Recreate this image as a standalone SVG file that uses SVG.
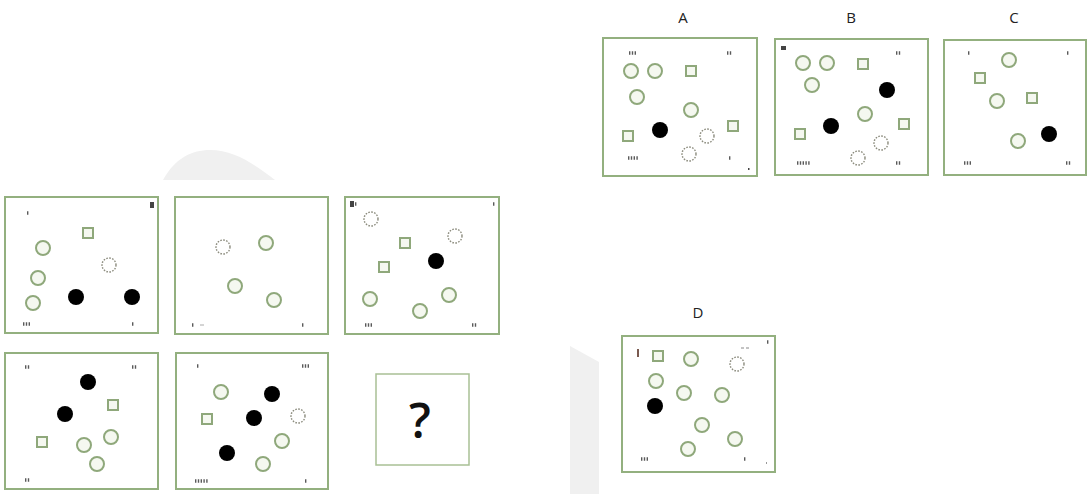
<svg xmlns="http://www.w3.org/2000/svg" width="1092" height="494" viewBox="0 0 1092 494">
<style>
.frame{fill:#ffffff;stroke:#93b07f;stroke-width:2}
.q{fill:#ffffff;stroke:#a9c095;stroke-width:1.5}
.c{fill:#f5f8f0;stroke:#8fa87b;stroke-width:2}
.d{fill:#ffffff;stroke:#8a8a7c;stroke-width:1.4;stroke-dasharray:1.6 1.4}
.b{fill:#000000}
.s{fill:#f5f8f0;stroke:#8fa87b;stroke-width:2}
.m{stroke:#5a5a5a;stroke-width:3.5;stroke-dasharray:1.4 1.4;fill:none}
.lbl{font-family:"Open Sans","Liberation Sans",sans-serif;font-size:15px;fill:#222;text-anchor:middle}
.wm{fill:#f0f0f0}
</style>
<rect width="1092" height="494" fill="#ffffff"/>
<g id="watermark">
<path class="wm" d="M163,180 C175,158 192,150 210,150 C235,150 255,165 275,180 Z"/>
<polygon class="wm" points="570,346 599,362 599,494 570,494"/>
</g>
<g id="p1">
<rect class="frame" x="5" y="197" width="153" height="136"/>
<line class="m" x1="27" y1="213" x2="29.8" y2="213"/>
<rect x="150" y="202" width="4" height="6" fill="#444"/>
<rect class="s" x="83" y="228" width="10" height="10"/>
<circle class="c" cx="43" cy="248" r="7"/>
<circle class="d" cx="109" cy="265" r="7"/>
<circle class="c" cx="38" cy="278" r="7"/>
<circle class="c" cx="33" cy="303" r="7"/>
<circle class="b" cx="76" cy="297" r="8"/>
<circle class="b" cx="132" cy="297" r="8"/>
<line class="m" x1="23" y1="324" x2="31.4" y2="324"/>
<line class="m" x1="132" y1="324" x2="134.8" y2="324"/>
</g>
<g id="p2">
<rect class="frame" x="175" y="197" width="153" height="137"/>
<circle class="d" cx="223" cy="247" r="7"/>
<circle class="c" cx="266" cy="243" r="7"/>
<circle class="c" cx="235" cy="286" r="7"/>
<circle class="c" cx="274" cy="300" r="7"/>
<line class="m" x1="192" y1="325" x2="194.8" y2="325"/>
<line x1="200" y1="325" x2="204" y2="325" stroke="#aaa" stroke-width="1"/>
<line class="m" x1="302" y1="325" x2="304.8" y2="325"/>
</g>
<g id="p3">
<rect class="frame" x="345" y="197" width="154" height="137"/>
<rect x="350" y="201" width="4" height="6" fill="#444"/>
<line class="m" x1="355" y1="204" x2="357.8" y2="204"/>
<line class="m" x1="493" y1="204" x2="495.8" y2="204"/>
<circle class="d" cx="371" cy="219" r="7"/>
<circle class="d" cx="455" cy="236" r="7"/>
<rect class="s" x="400" y="238" width="10" height="10"/>
<rect class="s" x="379" y="262" width="10" height="10"/>
<circle class="b" cx="436" cy="261" r="8"/>
<circle class="c" cx="370" cy="299" r="7"/>
<circle class="c" cx="449" cy="295" r="7"/>
<circle class="c" cx="420" cy="311" r="7"/>
<line class="m" x1="365" y1="325" x2="373.4" y2="325"/>
<line class="m" x1="472" y1="325" x2="477.6" y2="325"/>
</g>
<g id="p4">
<rect class="frame" x="5" y="353" width="153" height="136"/>
<line class="m" x1="25" y1="367" x2="30.6" y2="367"/>
<line class="m" x1="132" y1="367" x2="137.6" y2="367"/>
<circle class="b" cx="88" cy="382" r="8"/>
<rect class="s" x="108" y="400" width="10" height="10"/>
<circle class="b" cx="65" cy="414" r="8"/>
<rect class="s" x="37" y="437" width="10" height="10"/>
<circle class="c" cx="111" cy="437" r="7"/>
<circle class="c" cx="84" cy="445" r="7"/>
<circle class="c" cx="97" cy="464" r="7"/>
<line class="m" x1="25" y1="480" x2="30.6" y2="480"/>
</g>
<g id="p5">
<rect class="frame" x="176" y="353" width="152" height="136"/>
<line class="m" x1="197" y1="366" x2="199.8" y2="366"/>
<line class="m" x1="302" y1="366" x2="310.4" y2="366"/>
<circle class="c" cx="221" cy="392" r="7"/>
<circle class="b" cx="272" cy="394" r="8"/>
<rect class="s" x="202" y="414" width="10" height="10"/>
<circle class="b" cx="254" cy="418" r="8"/>
<circle class="d" cx="298" cy="416" r="7"/>
<circle class="c" cx="282" cy="441" r="7"/>
<circle class="b" cx="227" cy="453" r="8"/>
<circle class="c" cx="263" cy="464" r="7"/>
<line class="m" x1="195" y1="481" x2="209" y2="481"/>
<line class="m" x1="305" y1="481" x2="307.8" y2="481"/>
</g>
<g id="question">
<rect class="q" x="376" y="374" width="93" height="91"/>
<text x="420" y="438" font-family="'Open Sans','Liberation Sans',sans-serif" font-size="48" font-weight="600" fill="#111" text-anchor="middle">?</text>
</g>
<g id="optA">
<text class="lbl" x="683" y="23">A</text>
<rect class="frame" x="603" y="38" width="154" height="138"/>
<line class="m" x1="629" y1="53" x2="637.4" y2="53" stroke="#7a5a50"/>
<line class="m" x1="727" y1="53" x2="732.6" y2="53" stroke="#9a6a5a"/>
<circle class="c" cx="631" cy="71" r="7"/>
<circle class="c" cx="655" cy="71" r="7"/>
<rect class="s" x="686" y="66" width="10" height="10"/>
<circle class="c" cx="637" cy="97" r="7"/>
<circle class="c" cx="691" cy="110" r="7"/>
<rect class="s" x="728" y="121" width="10" height="10"/>
<circle class="b" cx="660" cy="130" r="8"/>
<rect class="s" x="623" y="131" width="10" height="10"/>
<circle class="d" cx="707" cy="136" r="7"/>
<circle class="d" cx="689" cy="154" r="7"/>
<line class="m" x1="628" y1="158" x2="639.2" y2="158"/>
<line class="m" x1="729" y1="158" x2="731.8" y2="158"/>
<rect x="748" y="168" width="1.5" height="2" fill="#444"/>
</g>
<g id="optB">
<text class="lbl" x="851" y="23">B</text>
<rect class="frame" x="775" y="39" width="153" height="136"/>
<rect x="781" y="46" width="5" height="4" fill="#444"/>
<line class="m" x1="896" y1="53" x2="901.6" y2="53"/>
<circle class="c" cx="803" cy="63" r="7"/>
<circle class="c" cx="827" cy="63" r="7"/>
<rect class="s" x="858" y="59" width="10" height="10"/>
<circle class="c" cx="812" cy="85" r="7"/>
<circle class="b" cx="887" cy="90" r="8"/>
<circle class="c" cx="865" cy="114" r="7"/>
<rect class="s" x="899" y="119" width="10" height="10"/>
<circle class="b" cx="831" cy="126" r="8"/>
<rect class="s" x="795" y="129" width="10" height="10"/>
<circle class="d" cx="881" cy="143" r="7"/>
<circle class="d" cx="858" cy="158" r="7"/>
<line class="m" x1="797" y1="163" x2="811" y2="163"/>
<line class="m" x1="896" y1="163" x2="901.6" y2="163"/>
</g>
<g id="optC">
<text class="lbl" x="1014" y="23">C</text>
<rect class="frame" x="944" y="40" width="142" height="135"/>
<line class="m" x1="968" y1="53" x2="970.8" y2="53"/>
<line class="m" x1="1067" y1="53" x2="1069.8" y2="53"/>
<circle class="c" cx="1009" cy="60" r="7"/>
<rect class="s" x="975" y="73" width="10" height="10"/>
<circle class="c" cx="997" cy="101" r="7"/>
<rect class="s" x="1027" y="93" width="10" height="10"/>
<circle class="c" cx="1018" cy="141" r="7"/>
<circle class="b" cx="1049" cy="134" r="8"/>
<line class="m" x1="964" y1="163" x2="972.4" y2="163"/>
<line class="m" x1="1066" y1="163" x2="1071.6" y2="163"/>
</g>
<g id="optD">
<text class="lbl" x="698" y="318">D</text>
<rect class="frame" x="622" y="336" width="153" height="136"/>
<rect x="637" y="349" width="2" height="8" fill="#7a5a50"/>
<line class="m" x1="767" y1="342" x2="769.8" y2="342"/>
<rect class="s" x="653" y="351" width="10" height="10"/>
<circle class="c" cx="691" cy="359" r="7"/>
<line x1="741" y1="348" x2="744" y2="348" stroke="#888" stroke-width="1"/>
<line x1="746" y1="348" x2="749" y2="348" stroke="#888" stroke-width="1"/>
<circle class="d" cx="737" cy="364" r="7"/>
<circle class="c" cx="656" cy="381" r="7"/>
<circle class="c" cx="684" cy="393" r="7"/>
<circle class="c" cx="722" cy="395" r="7"/>
<circle class="b" cx="655" cy="406" r="8"/>
<circle class="c" cx="702" cy="425" r="7"/>
<circle class="c" cx="735" cy="439" r="7"/>
<circle class="c" cx="688" cy="449" r="7"/>
<line class="m" x1="641" y1="459" x2="649.4" y2="459"/>
<line class="m" x1="744" y1="459" x2="746.8" y2="459"/>
<rect x="766" y="462" width="1" height="2" fill="#999"/>
</g>
</svg>
